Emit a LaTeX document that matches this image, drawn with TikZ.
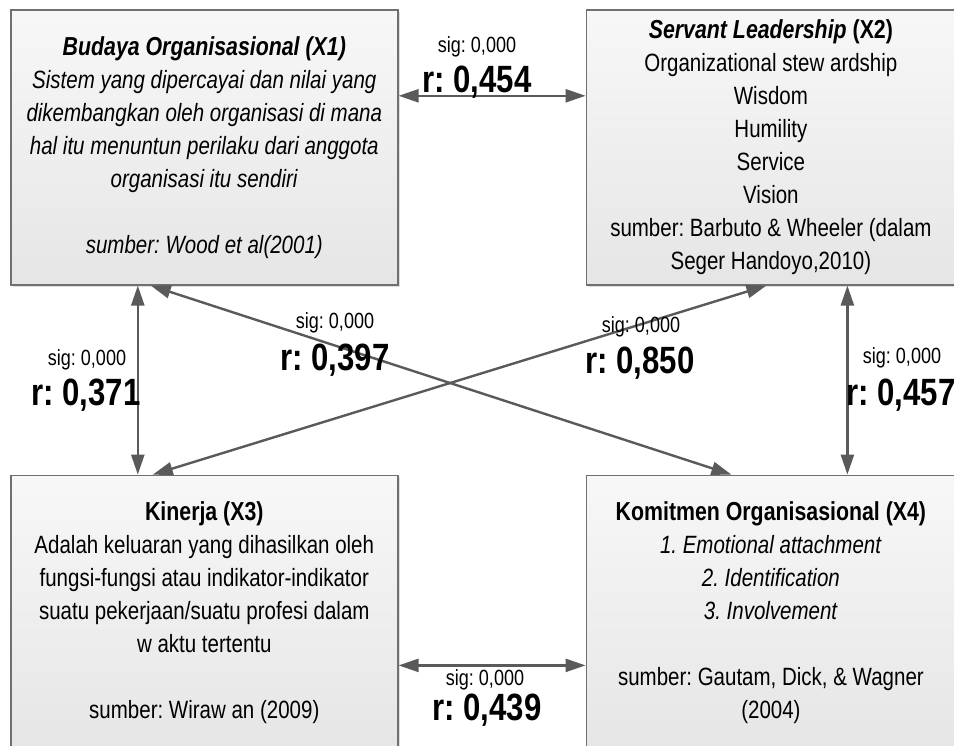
\documentclass[tikz,border=0pt]{standalone}
\usepackage{fontspec}
\setmainfont{Liberation Sans}[FakeStretch=0.82]
\frenchspacing
\usetikzlibrary{arrows.meta,positioning,shadows}
\definecolor{linegray}{HTML}{5A5A5A}
\definecolor{boxgray}{HTML}{707070}
\newcommand{\boxtitle}[1]{{\fontsize{26}{33}\selectfont\bfseries #1}}
\tikzset{
    %Define standard arrow tip
    >={Triangle[length=20pt,width=13pt]},
    %Define style for boxes
    box/.style={
           rectangle,
           draw=boxgray, line width=1.6pt,
           top color=white!97!black,
           bottom color=black!10,
           drop shadow={opacity=0.25,shadow xshift=2pt,shadow yshift=-2pt},
           minimum height=275pt,
           align=center,
           font=\fontsize{25}{33}\selectfont},
    % Define arrow style
    both/.style={
           <->,
           draw=linegray,
           line width=2.4pt},
    % Define label styles
    sig/.style={
           inner sep=0pt,
           font=\fontsize{22}{22}\selectfont},
    rval/.style={
           inner sep=0pt,
           font=\fontsize{38}{38}\selectfont\bfseries}
}

\begin{document}
\begin{tikzpicture}[x=1pt, y=-1pt]
 \useasboundingbox[fill=white] (0,0) rectangle (954,746);
 %nodes
    \node[box, minimum width=387pt, anchor=north west] (budaya) at (10,9)
        {\boxtitle{\itshape Budaya Organisasional (X1)}\\
         \textit{Sistem yang dipercayai dan nilai yang}\\
         \textit{dikembangkan oleh organisasi di mana}\\
         \textit{hal itu menuntun perilaku dari anggota}\\
         \textit{organisasi itu sendiri}\\[33pt]
         \textit{sumber: Wood et al(2001)}};
    \node[box, minimum width=369pt, right=187pt of budaya] (servant)
        {\boxtitle{\textit{Servant Leadership} (X2)}\\
         Organizational stew ardship\\
         Wisdom\\
         Humility\\
         Service\\
         Vision\\
         sumber: Barbuto \& Wheeler (dalam\\
         Seger Handoyo,2010)};
    \node[box, minimum width=387pt, below=189pt of budaya] (kinerja)
        {\boxtitle{Kinerja (X3)}\\
         Adalah keluaran yang dihasilkan oleh\\
         fungsi-fungsi atau indikator-indikator\\
         suatu pekerjaan/suatu profesi dalam\\
         w aktu tertentu\\[33pt]
         sumber: Wiraw an (2009)};
    \node[box, minimum width=369pt, below=189pt of servant] (komitmen)
        {\boxtitle{Komitmen Organisasional (X4)}\\
         \textit{1. Emotional attachment}\\
         \textit{2. Identification}\\
         \textit{3. Involvement}\\[33pt]
         sumber: Gautam, Dick, \& Wagner\\
         (2004)};
 %edges
    \draw[both] ([yshift=51.5pt]budaya.east) -- ([yshift=51.5pt]servant.west);
    \draw[both] ([yshift=-52.5pt]kinerja.east) -- ([yshift=-52.5pt]komitmen.west);
    \draw[both] ([xshift=-66.5pt]budaya.south) -- ([xshift=-66.5pt]kinerja.north);
    \draw[both] ([xshift=76.5pt]servant.south) -- ([xshift=76.5pt]komitmen.north);
    \draw[both] ([xshift=-53.5pt]budaya.south) -- ([xshift=-39.5pt]komitmen.north);
    \draw[both] ([xshift=-4.5pt]servant.south) -- ([xshift=-51.5pt]kinerja.north);
 %labels
    \node[sig] (sig12) at (477,47) {sig: 0,000};
    \node[rval] (r12) at (477,82) {r: 0,454};
    \node[sig] (sig34) at (485,680) {sig: 0,000};
    \node[rval] (r34) at (487,710) {r: 0,439};
    \node[sig] (sig13) at (87,360) {sig: 0,000};
    \node[rval] (r13) at (86,395) {r: 0,371};
    \node[sig] (sig24) at (902,358) {sig: 0,000};
    \node[rval] (r24) at (901,395) {r: 0,457};
    \node[sig] (sig14) at (335,323) {sig: 0,000};
    \node[rval] (r14) at (335,360) {r: 0,397};
    \node[sig] (sig23) at (641,327) {sig: 0,000};
    \node[rval] (r23) at (640,363) {r: 0,850};
\end{tikzpicture}
\end{document}
